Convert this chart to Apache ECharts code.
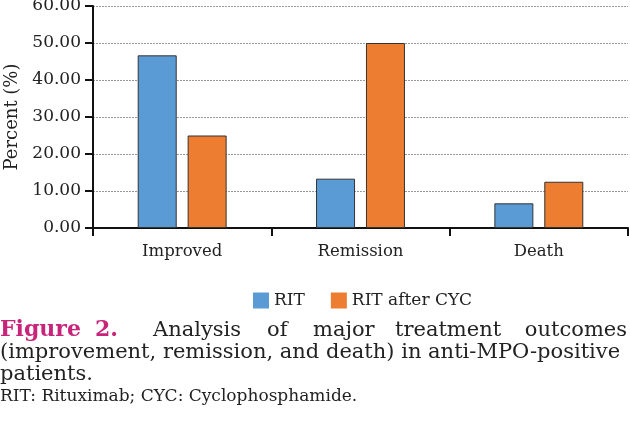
<!DOCTYPE html>
<html>
<head>
<meta charset="utf-8">
<script src="https://cdn.jsdelivr.net/npm/echarts@6/dist/echarts.min.js"></script>
<style>html,body{margin:0;padding:0;background:#fff;}#c{width:630px;height:432px;}</style>
</head>
<body>
<div id="c"></div>
<script>
var categories = ['Improved', 'Remission', 'Death'];
var seriesNames = ['RIT', 'RIT after CYC'];
var ritValues = [46.67, 13.33, 6.67];
var ritAfterCycValues = [25.0, 50.0, 12.5];
var yTicks = [0, 10, 20, 30, 40, 50, 60];
var yAxisName = 'Percent (%)';
var captionLabel = ['Figure', '2.'];
var captionLine1Words = ['Analysis', 'of', 'major', 'treatment', 'outcomes'];
var captionLine2 = '(improvement, remission, and death) in anti-MPO-positive';
var captionLine3 = 'patients.';
var footnote = 'RIT: Rituximab; CYC: Cyclophosphamide.';

var FONT = 'DejaVu Serif';
var chart = echarts.init(document.getElementById('c'), null, {renderer: 'canvas'});

var line1X = [153, 267, 313, 395, null];
var graphics = [];
graphics.push({type: 'text', left: 0, top: 319, style: {text: captionLabel[0], font: 'bold 22px "' + FONT + '"', fill: '#c8247a'}});
graphics.push({type: 'text', left: 95, top: 319, style: {text: captionLabel[1], font: 'bold 22px "' + FONT + '"', fill: '#c8247a'}});
captionLine1Words.forEach(function (w, i) {
  var g = {type: 'text', top: 320, style: {text: w, font: '21px "' + FONT + '"', fill: '#222'}};
  if (line1X[i] === null) { g.right = 3; } else { g.left = line1X[i]; }
  graphics.push(g);
});
graphics.push({type: 'text', left: 0, top: 342, style: {text: captionLine2, font: '21px "' + FONT + '"', fill: '#222'}});
graphics.push({type: 'text', left: 0, top: 364, style: {text: captionLine3, font: '21px "' + FONT + '"', fill: '#222'}});
graphics.push({type: 'text', left: 0, top: 388, style: {text: footnote, font: '17px "' + FONT + '"', fill: '#222'}});

var option = {
  backgroundColor: '#fff',
  animation: false,
  grid: {left: 93, right: 2, top: 6, bottom: 204, containLabel: false, outerBoundsMode: 'none'},
  legend: {
    data: seriesNames,
    left: 248, top: 287,
    itemWidth: 16, itemHeight: 16, itemGap: 26,
    icon: 'rect',
    itemStyle: {borderWidth: 0},
    textStyle: {fontFamily: FONT, fontSize: 17, color: '#222'}
  },
  xAxis: {
    type: 'category',
    data: categories,
    axisLine: {lineStyle: {color: '#111', width: 2}},
    axisTick: {show: true, length: 8, lineStyle: {color: '#111', width: 2}},
    axisLabel: {fontFamily: FONT, fontSize: 16.5, color: '#222', margin: 15}
  },
  yAxis: {
    type: 'value',
    min: yTicks[0], max: yTicks[yTicks.length - 1], interval: 10,
    name: yAxisName,
    nameLocation: 'middle',
    nameGap: 72,
    nameTextStyle: {fontFamily: FONT, fontSize: 18, color: '#222'},
    axisLine: {show: true, lineStyle: {color: '#111', width: 2}},
    axisTick: {show: true, length: 8, lineStyle: {color: '#111', width: 2}},
    axisLabel: {fontFamily: FONT, fontSize: 17, color: '#222', margin: 12,
      formatter: function (v) { return v.toFixed(2); }},
    splitLine: {show: true, lineStyle: {color: '#999', type: [2, 1], width: 1}}
  },
  series: [
    {name: seriesNames[0], type: 'bar', data: ritValues, barWidth: 39, barGap: '28%',
      itemStyle: {color: '#5b9bd5', borderColor: '#333', borderWidth: 1}},
    {name: seriesNames[1], type: 'bar', data: ritAfterCycValues, barWidth: 39,
      itemStyle: {color: '#ed7d31', borderColor: '#333', borderWidth: 1}}
  ],
  graphic: graphics
};
chart.setOption(option);
</script>
</body>
</html>
